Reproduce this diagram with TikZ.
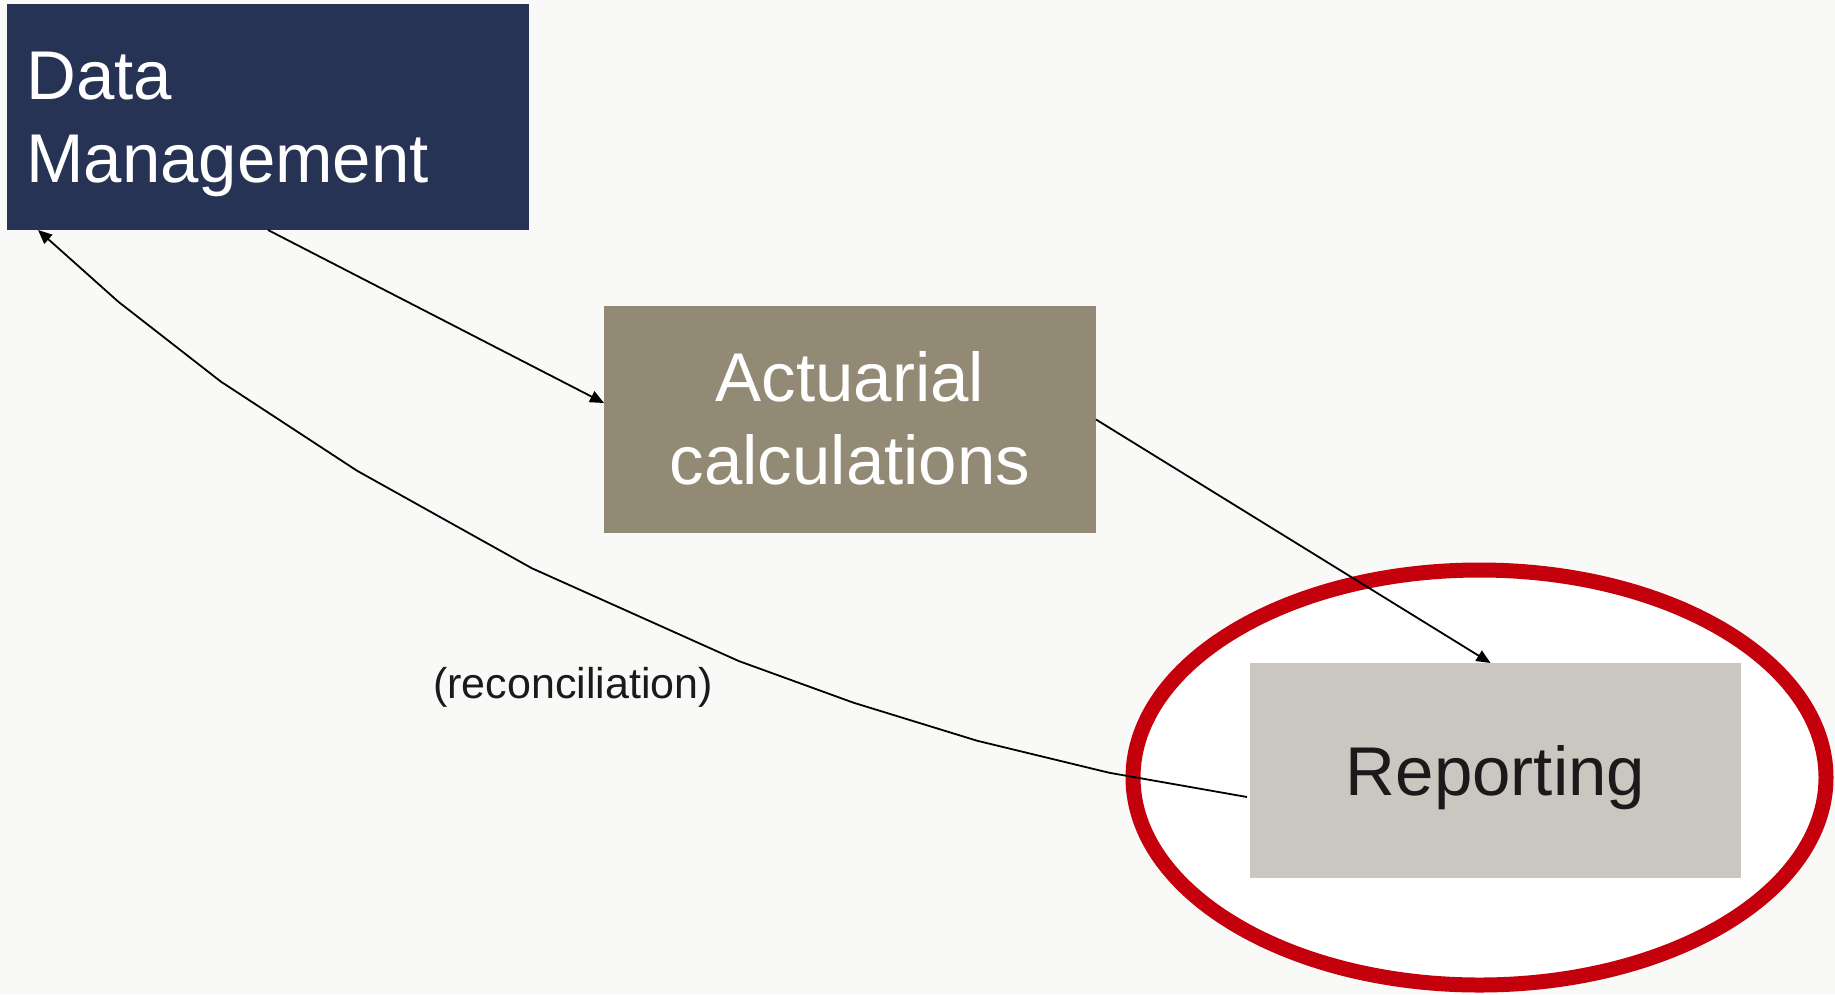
\documentclass[tikz,border=0pt]{standalone}
\usepackage{fontspec}
\setmainfont{Liberation Sans}
\usetikzlibrary{arrows.meta,shapes.geometric,calc}
\definecolor{bgc}{HTML}{F9F9F7}
\definecolor{navy}{HTML}{263354}
\definecolor{khaki}{HTML}{928A75}
\definecolor{stone}{HTML}{C9C7BF}
\definecolor{focusred}{HTML}{C4000C}
\definecolor{darktext}{HTML}{1A1A1A}
\tikzset{
  boxbase/.style={rectangle, inner sep=0pt, outer sep=0pt, draw=none},
  bigtext/.style={inner sep=0pt, font=\fontsize{69}{82}\selectfont},
  conn/.style={line width=1.8pt, black, -{Triangle[length=14pt,width=12pt]}},
  focusring/.style={ellipse, draw=focusred, line width=15pt, fill=white, inner sep=0pt,
    minimum width=693pt, minimum height=415pt}
}
\begin{document}
\begin{tikzpicture}[x=1pt,y=-1pt]
\fill[bgc] (0,0) rectangle (1835,994);
\useasboundingbox (0,0) rectangle (1835,994);

\node[focusring] (focus) at (1479.5,777.5) {};

\node[boxbase, fill=navy, minimum width=522pt, minimum height=226pt, anchor=north west] (dm) at (7,4) {};
\node[bigtext, text=white, anchor=base west] (dmt1) at (26,99) {Data};
\node[bigtext, text=white, anchor=base west] (dmt2) at (26,182) {Management};

\node[boxbase, fill=khaki, minimum width=492pt, minimum height=227pt, anchor=north west] (act) at (604,306) {};
\node[bigtext, text=white, anchor=base] (actt1) at (850,401) {Actuarial};
\node[bigtext, text=white, anchor=base] (actt2) at (850,484) {calculations};

\node[boxbase, fill=stone, minimum width=491pt, minimum height=215pt, anchor=north west] (rep) at (1250,663) {};
\node[bigtext, text=darktext, anchor=base] (rept) at (1495.5,795) {Reporting};

\node[inner sep=0pt, anchor=base, text=darktext, font=\fontsize{43}{50}\selectfont] (recon) at (573,698) {(reconciliation)};

\draw[conn] (dm.south) -- ([yshift=16.5pt]act.west);
\draw[conn] (act.east) -- ([xshift=-5pt]rep.north);
\draw[conn] ([xshift=-3pt,yshift=-26.5pt]rep.west) -- (1109,772.7) -- (977,740.7) -- (853.5,702.7)
  -- (738.7,661) -- (532,568.3) -- (357,470.7) -- (221,381.7) -- (118.3,301.7) -- ([xshift=31pt]dm.south west);
\end{tikzpicture}
\end{document}
